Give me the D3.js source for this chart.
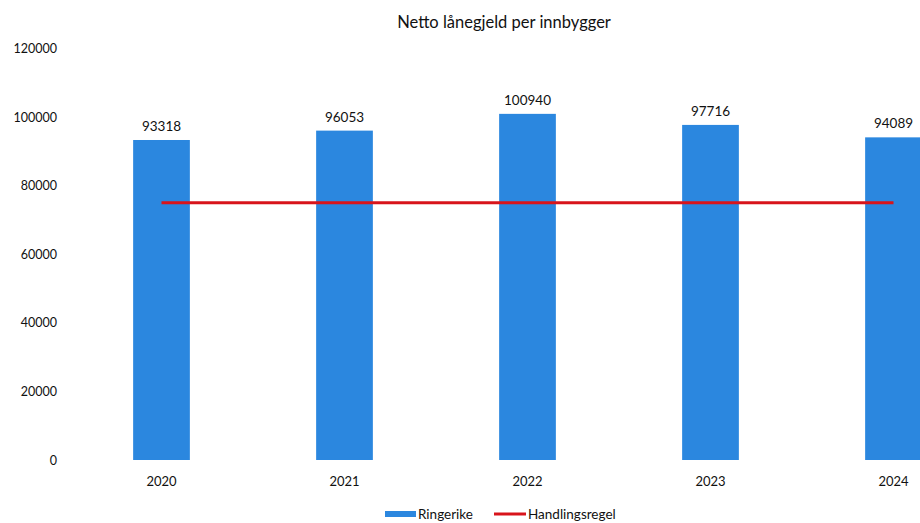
<!DOCTYPE html>
<html><head><meta charset="utf-8">
<script src="https://cdn.jsdelivr.net/npm/d3@7/dist/d3.min.js"></script>
<style>
html,body{margin:0;padding:0;background:#fff;}
svg{display:block;font-family:Lato,"Open Sans",sans-serif;}
</style></head>
<body>
<svg id="chart" width="920" height="523"></svg>
<script>
const title = "Netto lånegjeld per innbygger";
const categories = ["2020","2021","2022","2023","2024"];
const ringerike = [93318, 96053, 100940, 97716, 94089];
const handlingsregel = [75000, 75000, 75000, 75000, 75000];
const yTicks = [0, 20000, 40000, 60000, 80000, 100000, 120000];
const seriesNames = ["Ringerike", "Handlingsregel"];

const svg = d3.select("#chart");
const barColor = "#2b87df", lineColor = "#d8141b";

const x = d3.scaleBand().domain(categories).range([70, 985]).padding(0);
const barW = x.bandwidth() * 0.31;
const y = d3.scaleLinear().domain([0, 120000]).range([460, 48.5]);

svg.append("text").attr("x", 504).attr("y", 28).attr("text-anchor", "middle")
  .attr("font-size", 16.5).attr("fill", "#111").text(title);

// y axis (labels only)
const yAxis = d3.axisLeft(y).tickValues(yTicks).tickSize(0).tickPadding(0).tickFormat(d3.format("d"));
const gy = svg.append("g").attr("transform", "translate(57,0)").call(yAxis);
gy.select(".domain").remove();
gy.selectAll("text").attr("font-size", 12.5).attr("fill", "#111").attr("font-family", "Lato, sans-serif");

// bars
svg.append("g").selectAll("rect").data(categories).join("rect")
  .attr("x", (d) => x(d) + x.bandwidth()/2 - barW/2)
  .attr("y", (d, i) => y(ringerike[i]))
  .attr("width", barW)
  .attr("height", (d, i) => y(0) - y(ringerike[i]))
  .attr("fill", barColor);

// value labels
svg.append("g").selectAll("text").data(categories).join("text")
  .attr("x", (d) => x(d) + x.bandwidth()/2)
  .attr("y", (d, i) => y(ringerike[i]) - 9)
  .attr("text-anchor", "middle").attr("font-size", 13.5).attr("fill", "#111")
  .text((d, i) => ringerike[i]);

// x axis labels
const xAxis = d3.axisBottom(x).tickSize(0).tickPadding(0);
const gx = svg.append("g").attr("transform", "translate(0,477)").call(xAxis);
gx.select(".domain").remove();
gx.selectAll("text").attr("font-size", 13).attr("fill", "#111").attr("font-family", "Lato, sans-serif");

// line
const line = d3.line().x((d, i) => x(categories[i]) + x.bandwidth()/2).y((d) => y(d));
svg.append("path").datum(handlingsregel).attr("d", line)
  .attr("fill", "none").attr("stroke", lineColor).attr("stroke-width", 3);

// legend
const lg = svg.append("g");
lg.append("rect").attr("x", 385).attr("y", 511).attr("width", 31).attr("height", 6).attr("fill", barColor);
lg.append("text").attr("x", 418).attr("y", 519).attr("font-size", 13.5).attr("fill", "#111").text(seriesNames[0]);
lg.append("line").attr("x1", 494).attr("x2", 526).attr("y1", 514).attr("y2", 514)
  .attr("stroke", lineColor).attr("stroke-width", 3);
lg.append("text").attr("x", 528).attr("y", 519).attr("font-size", 13.5).attr("fill", "#111").text(seriesNames[1]);
</script>
</body></html>
